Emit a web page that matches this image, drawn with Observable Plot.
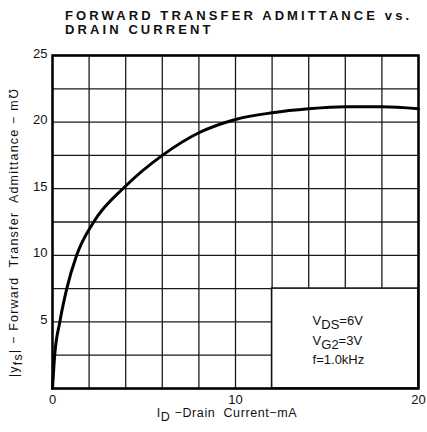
<!DOCTYPE html>
<html>
<head>
<meta charset="utf-8">
<script src="https://cdn.jsdelivr.net/npm/d3@7"></script>
<script src="https://cdn.jsdelivr.net/npm/@observablehq/plot@0.6"></script>
<style>
  body { margin: 0; background: white; font-family: "Liberation Sans", Arial, sans-serif; }
  #title { height: 40px; box-sizing: border-box; padding: 9px 0 0 65px; font-weight: bold; font-size: 13px; letter-spacing: 3.1px; line-height: 14px; color: #111; white-space: nowrap; }
  svg text { fill: #111; }
</style>
</head>
<body>
<div id="title">FORWARD TRANSFER ADMITTANCE vs.<br>DRAIN CURRENT</div>
<div id="chart"></div>
<script>
// Drain current (mA) and forward transfer admittance (mmho)
const drainCurrent = [0, 0.12, 0.4, 0.78, 1.32, 2.25, 4, 6, 8, 10, 12, 14, 16, 18, 20];
const admittance   = [0, 2.5, 5, 7.5, 10, 12.5, 15.2, 17.5, 19.2, 20.2, 20.7, 21.0, 21.15, 21.15, 21.0];
const xGrid = [0, 2, 4, 6, 8, 10, 12, 14, 16, 18, 20];
const yGrid = [0, 2.5, 5, 7.5, 10, 12.5, 15, 17.5, 20, 22.5, 25];
const xTicks = [0, 10, 20];
const yTicks = [5, 10, 15, 20, 25];
const legendBox = [{x1: 12, x2: 20, y1: 0, y2: 7.5}];
const conditions = [
  {main: "V", sub: "DS", rest: "=6V"},
  {main: "V", sub: "G2", rest: "=3V"},
  {main: "f=1.0kHz", sub: "", rest: ""}
];

const data = drainCurrent.map((d, i) => ({id: d, yfs: admittance[i]}));

const plot = Plot.plot({
  width: 427,
  height: 392,
  marginLeft: 52,
  marginRight: 9,
  marginTop: 15,
  marginBottom: 44,
  style: {fontFamily: "'Liberation Sans', Arial, sans-serif", fontSize: "13px", background: "white", color: "#111"},
  x: {domain: [0, 20]},
  y: {domain: [0, 25]},
  marks: [
    Plot.ruleX(xGrid, {stroke: "#1a1a1a", strokeWidth: 1.3}),
    Plot.ruleY(yGrid, {stroke: "#1a1a1a", strokeWidth: 1.3}),
    Plot.rect(legendBox, {x1: "x1", x2: "x2", y1: "y1", y2: "y2", fill: "white", stroke: "#111", strokeWidth: 1.6}),
    Plot.line(data, {x: "id", y: "yfs", curve: "monotone-x", stroke: "#000", strokeWidth: 3}),
    Plot.frame({stroke: "#000", strokeWidth: 2.5}),
    Plot.axisX({ticks: xTicks, tickSize: 0, tickPadding: 6, label: null, fontSize: 13}),
    Plot.axisY({ticks: yTicks, tickSize: 0, tickPadding: 5, dy: -2, label: null, fontSize: 13})
  ]
});
document.getElementById("chart").appendChild(plot);

const svg = d3.select(plot);
const xs = plot.scale("x"), ys = plot.scale("y");

// Legend text in the box
const lx = xs.apply(legendBox[0].x1) + 41;
const ly0 = ys.apply(legendBox[0].y2) + 37;
conditions.forEach((c, i) => {
  const t = svg.append("text")
    .attr("x", lx)
    .attr("y", ly0 + i * 19.5)
    .attr("text-anchor", "start")
    .attr("font-size", 13)
    .attr("fill", "#111");
  t.append("tspan").text(c.main);
  if (c.sub) {
    t.append("tspan").attr("dy", 4).text(c.sub);
    t.append("tspan").attr("dy", -4).text(c.rest);
  }
});

// X axis label
const xl = svg.append("text")
  .attr("x", (xs.apply(0) + xs.apply(20)) / 2 - 8)
  .attr("y", ys.apply(0) + 29)
  .attr("text-anchor", "middle")
  .attr("font-size", 12.5)
  .attr("letter-spacing", 0.6)
  .attr("fill", "#111");
xl.append("tspan").text("I");
xl.append("tspan").attr("dy", 4).text("D");
xl.append("tspan").attr("dy", -4).text(" \u2212Drain  Current\u2212mA");

// Y axis label
const yl = svg.append("text")
  .attr("transform", `translate(18,${(ys.apply(0) + ys.apply(25)) / 2 + 11}) rotate(-90)`)
  .attr("text-anchor", "middle")
  .attr("font-size", 12.5)
  .attr("letter-spacing", 1.2)
  .attr("fill", "#111");
yl.append("tspan").text("|y");
yl.append("tspan").attr("dy", 4).text("fs");
yl.append("tspan").attr("dy", -4).text("| \u2212 Forward  Transfer  Admittance \u2212 m\u2127");
</script>
</body>
</html>
